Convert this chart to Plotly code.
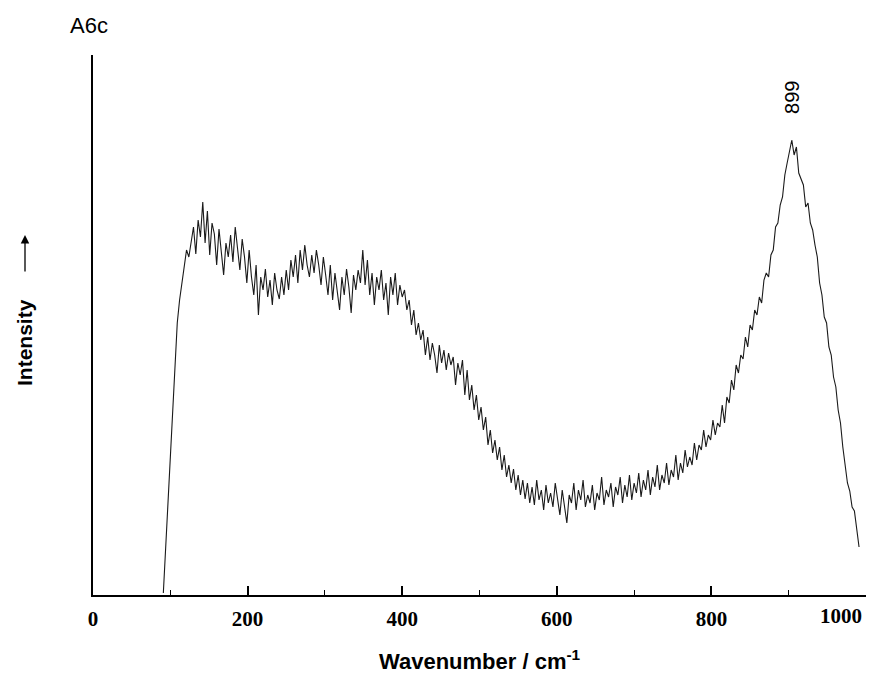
import plotly.graph_objects as go

# Raman spectrum (wavenumber step 3 cm-1)
wavenumber = list(range(91, 992, 3))
intensity = [
    2, 45, 95, 140, 185, 230, 272, 295, 312, 328, 345, 338,
    352, 368, 341, 375, 358, 393, 352, 384, 340, 372, 361, 330,
    366, 345, 320, 352, 338, 360, 333, 368, 345, 325, 356, 338,
    312, 345, 318, 300, 330, 280, 318, 305, 326, 298, 315, 290,
    322, 305, 296, 318, 300, 325, 305, 335, 318, 340, 312, 345,
    325, 350, 330, 318, 340, 322, 345, 330, 310, 338, 320, 300,
    330, 295, 322, 305, 285, 318, 300, 326, 308, 282, 320, 305,
    325, 312, 345, 310, 335, 300, 322, 290, 318, 305, 325, 295,
    312, 280, 318, 300, 322, 290, 310, 298, 305, 285, 295, 270,
    285, 260, 272, 255, 265, 240, 258, 235, 252, 240, 222, 250,
    232, 245, 225, 242, 230, 238, 210, 232, 220, 235, 200, 225,
    195, 210, 185, 200, 175, 188, 165, 178, 150, 165, 142, 155,
    135, 148, 125, 140, 118, 130, 112, 126, 105, 120, 100, 115,
    96, 112, 92, 108, 90, 115, 95, 105, 85, 110, 92, 102,
    88, 112, 95, 80, 105, 90, 72, 100, 92, 112, 85, 105,
    95, 115, 88, 100, 92, 110, 85, 102, 95, 118, 90, 105,
    98, 112, 88, 108, 100, 118, 92, 110, 98, 120, 95, 112,
    102, 122, 98, 115, 105, 125, 100, 118, 108, 130, 105, 120,
    112, 132, 110, 125, 118, 140, 115, 132, 122, 145, 128, 138,
    130, 152, 135, 150, 145, 165, 148, 160, 155, 175, 160, 172,
    168, 190, 172, 198, 192, 215, 205, 230, 222, 240, 236, 258,
    248, 270, 265, 285, 280, 298, 292, 315, 322, 318, 340, 345,
    368, 372, 390, 398, 420, 432, 445, 455, 440, 448, 422, 415,
    410, 388, 392, 372, 365, 350, 338, 312, 300, 278, 272, 248,
    240, 218, 208, 185, 172, 148, 132, 112, 104, 88, 84, 66,
    48,
]
n = min(len(wavenumber), len(intensity))
wavenumber = wavenumber[:n]
intensity = intensity[:n]

x_ticks = [0, 200, 400, 600, 800, 1000]
x_ticktext = [str(v) for v in x_ticks]
peak_label = "899"
peak_pos = 899

fig = go.Figure()
fig.add_trace(go.Scatter(
    x=wavenumber, y=intensity, mode="lines",
    line=dict(color="#1a1a1a", width=1.1), showlegend=False, hoverinfo="skip",
))

tick_font = dict(family="Liberation Serif", size=21, color="black", weight="bold")

# page body has an 8px margin: figure is drawn from (8, 8)
fig.update_layout(
    width=882, height=667,
    margin=dict(l=85, r=24, t=47, b=80),
    paper_bgcolor="white", plot_bgcolor="white",
    xaxis=dict(
        range=[0, 1000], tickvals=x_ticks, ticktext=x_ticktext[:-1] + [""],
        ticks="inside", ticklen=9, tickwidth=1.5,
        tickcolor="black", showline=True, linecolor="black", linewidth=1.5,
        showgrid=False, zeroline=False, ticklabelstandoff=4, automargin=False,
        tickfont=tick_font,
        minor=dict(dtick=100, ticks="inside", ticklen=5, tickcolor="black", tickwidth=1.2, showgrid=False),
    ),
    yaxis=dict(
        range=[0, 540], showticklabels=False, ticks="", showline=True, linecolor="black",
        linewidth=1.5, showgrid=False, zeroline=False, automargin=False,
    ),
    font=dict(family="Liberation Sans", color="black"),
)

# last tick label sits just left of its tick, as in the original
fig.add_annotation(
    text=x_ticktext[-1], x=x_ticks[-1], xref="x", yref="paper", y=0, yshift=-21,
    xshift=-2, showarrow=False, xanchor="right", yanchor="middle", font=tick_font,
)
fig.add_annotation(
    text="Wavenumber / cm<sup>-1</sup>", xref="paper", yref="paper", x=0.5, y=0,
    yshift=-65, showarrow=False, xanchor="center", yanchor="middle",
    font=dict(family="Liberation Sans", size=22, color="black", weight="bold"),
)
fig.add_annotation(
    text="Intensity", xref="paper", yref="paper", x=0, y=0.4667,
    xshift=-68, showarrow=False, textangle=-90, xanchor="center", yanchor="middle",
    font=dict(family="Liberation Sans", size=21, color="black", weight="bold"),
)
fig.add_annotation(
    text="", xref="paper", yref="paper", x=0, y=0.6667, xshift=-68,
    showarrow=True, ax=0, ay=38, arrowhead=2, arrowsize=1.3, arrowwidth=1.3,
    arrowcolor="black",
)
fig.add_annotation(
    text="A6c", xref="paper", yref="paper", x=0, y=1, yshift=30, xshift=-4,
    showarrow=False, xanchor="center", yanchor="middle",
    font=dict(family="Liberation Sans", size=22, color="black"),
)
fig.add_annotation(
    text=peak_label, x=peak_pos, y=498, xref="x", yref="y", showarrow=False,
    textangle=-90, xanchor="center", yanchor="middle", xshift=4,
    font=dict(family="Liberation Sans", size=20, color="black"),
)

fig.write_html("out.html")
